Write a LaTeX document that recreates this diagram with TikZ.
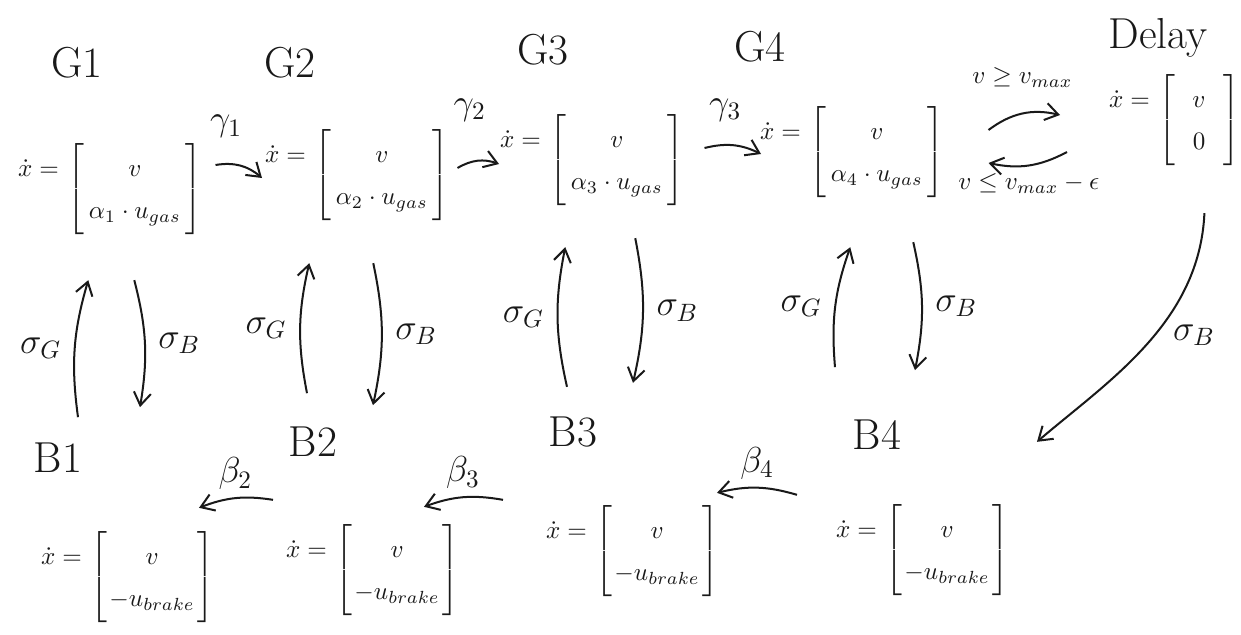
\documentclass[tikz,border=0pt]{standalone}
\usepackage{amsmath}
\usepackage{amssymb}
\usepackage{tikz}
\usetikzlibrary{
  arrows.meta,
  positioning,
  calc
}
\definecolor{inkcolor}{RGB}{25, 25, 25}
\renewcommand{\arraystretch}{1.4}
\newcommand{\statevec}[3][2pt]{%
  \raisebox{7.5pt}{$\dot{x} =$}\,%
  \left[\kern#1\begin{matrix} #2 \\ #3 \end{matrix}\kern#1\right]}
\tikzset{
modelabel/.style={
  font=\LARGE,
  text=inkcolor,
  inner sep=1pt
},
modeeq/.style={
  anchor=west,
  text=inkcolor,
  inner sep=1pt
},
switcharrow/.style={
  -{Straight Barb[length=1.8mm,width=2.4mm]},
  line width=0.8pt,
  draw=inkcolor
},
guardlabel/.style={
  font=\Large,
  text=inkcolor,
  inner sep=1pt
},
condlabel/.style={
  font=\normalsize,
  text=inkcolor,
  inner sep=1pt
}
}

\begin{document}
\begin{tikzpicture}[x=0.014cm, y=-0.014cm]
  \useasboundingbox (0,0) rectangle (1241,635);

  \node[modelabel] (g1lab) at (77,63) {G1};
  \node[modelabel] (g2lab) at (290,63) {G2};
  \node[modelabel] (g3lab) at (543,50) {G3};
  \node[modelabel] (g4lab) at (760,47) {G4};
  \node[modelabel] (delaylab) at (1158,38) {Delay};
  \node[modelabel] (b1lab) at (58,458) {B1};
  \node[modelabel] (b2lab) at (313,442) {B2};
  \node[modelabel] (b3lab) at (573,432) {B3};
  \node[modelabel] (b4lab) at (877,435) {B4};

  \node[modeeq] (g1) at (15,189) {$\statevec{v}{\alpha_1 \cdot u_{gas}}$};
  \node[modeeq] (g2) at (262,175) {$\statevec{v}{\alpha_2 \cdot u_{gas}}$};
  \node[modeeq] (g3) at (497,160) {$\statevec{v}{\alpha_3 \cdot u_{gas}}$};
  \node[modeeq] (g4) at (757,152) {$\statevec{v}{\alpha_4 \cdot u_{gas}}$};
  \node[modeeq] (delay) at (1106,120) {$\statevec[7pt]{v}{0}$};
  \node[modeeq] (b1) at (38,577) {$\statevec[1pt]{v}{-u_{brake}}$};
  \node[modeeq] (b2) at (283,570) {$\statevec[1pt]{v}{-u_{brake}}$};
  \node[modeeq] (b3) at (543,551) {$\statevec[1pt]{v}{-u_{brake}}$};
  \node[modeeq] (b4) at (833,550) {$\statevec[1pt]{v}{-u_{brake}}$};

  \draw[switcharrow] ($(g1.east)+(10,-24)$) to[bend left=25]
    node[guardlabel, pos=0.2, above=9pt] {$\gamma_1$} ($(g2.west)+(0,3)$);
  \draw[switcharrow] ($(g2.east)+(5,-7)$) to[bend left=25]
    node[guardlabel, pos=0.3, above=15pt] {$\gamma_2$} ($(g3.west)+(2,4)$);
  \draw[switcharrow] ($(g3.east)+(17,-12)$) to[bend left=20]
    node[guardlabel, pos=0.35, above=8pt] {$\gamma_3$} ($(g4.west)+(4,2)$);
  \draw[switcharrow] ($(g4.east)+(41,-22)$) to[bend left=25]
    node[condlabel, midway, above=9pt] {$v \geq v_{max}$} ($(delay.west)+(-46,-5)$);
  \draw[switcharrow] ($(delay.west)+(-39,32)$) to[bend left=20]
    node[condlabel, midway, below=2pt] {$v \leq v_{max} - \epsilon$} ($(g4.east)+(41,11)$);

  \draw[switcharrow] ($(b1lab.north)+(20,-23)$) to[bend left=12]
    node[guardlabel, midway, left=4pt] {$\sigma_G$} ($(g1.south)+(-22,43)$);
  \draw[switcharrow] ($(g1.south)+(24,43)$) to[bend left=12]
    node[guardlabel, midway, right=4pt] {$\sigma_B$} ($(b1lab.north)+(82,-33)$);
  \draw[switcharrow] ($(b2lab.north)+(-6,-31)$) to[bend left=12]
    node[guardlabel, midway, left=4pt] {$\sigma_G$} ($(g2.south)+(-48,40)$);
  \draw[switcharrow] ($(g2.south)+(16,40)$) to[bend left=12]
    node[guardlabel, midway, right=4pt] {$\sigma_B$} ($(b2lab.north)+(60,-19)$);
  \draw[switcharrow] ($(b3lab.north)+(-6,-27)$) to[bend left=12]
    node[guardlabel, midway, left=4pt] {$\sigma_G$} ($(g3.south)+(-27,39)$);
  \draw[switcharrow] ($(g3.south)+(43,30)$) to[bend left=12]
    node[guardlabel, midway, right=4pt] {$\sigma_B$} ($(b3lab.north)+(60,-31)$);
  \draw[switcharrow] ($(b4lab.north)+(-42,-50)$) to[bend left=12]
    node[guardlabel, midway, left=4pt] {$\sigma_G$} ($(g4.south)+(-2,47)$);
  \draw[switcharrow] ($(g4.south)+(61,42)$) to[bend left=12]
    node[guardlabel, midway, right=4pt] {$\sigma_B$} ($(b4lab.north)+(38,-47)$);

  \draw[switcharrow] ($(delay.south)+(30,45)$)
    .. controls ($(delay.south)+(25,155)$) and ($(b4.north east)+(95,-120)$) ..
    ($(b4.north east)+(25,-60)$) node[guardlabel, pos=0.45, right=6pt] {$\sigma_B$};

  \draw[switcharrow] ($(b2.north west)+(-10,-22)$) to[bend right=15]
    node[guardlabel, midway, above=2pt] {$\beta_2$} ($(b1.north east)+(-18,-21)$);
  \draw[switcharrow] ($(b3.north west)+(-40,-3)$) to[bend right=15]
    node[guardlabel, midway, above=2pt] {$\beta_3$} ($(b2.north east)+(-38,-15)$);
  \draw[switcharrow] ($(b4.north west)+(-36,-7)$) to[bend right=15]
    node[guardlabel, midway, above=2pt] {$\beta_4$} ($(b3.north east)+(-5,-10)$);
\end{tikzpicture}
\end{document}
